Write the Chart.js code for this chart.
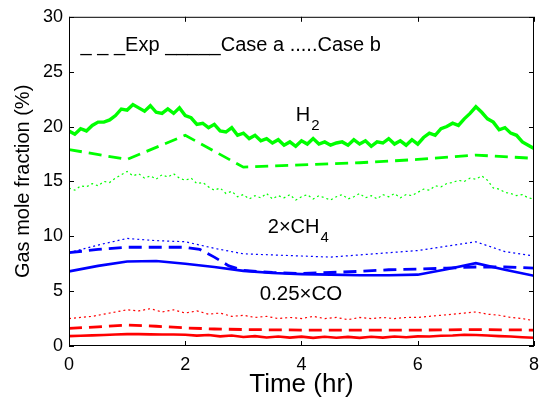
<!DOCTYPE html>
<html>
<head>
<meta charset="utf-8">
<script src="https://cdn.jsdelivr.net/npm/chart.js@4/dist/chart.umd.min.js"></script>
<style>
  html, body { margin: 0; padding: 0; background: #fff; }
  #wrap { width: 547px; height: 402px; }
</style>
</head>
<body>
<div id="wrap"><canvas id="c" width="547" height="402"></canvas></div>
<script>
// ---- Data ----
// time grids (hr)
const tFine = [0,0.1,0.2,0.3,0.4,0.5,0.6,0.7,0.8,0.9,1,1.1,1.2,1.3,1.4,1.5,1.6,1.7,1.8,1.9,2,2.1,2.2,2.3,2.4,2.5,2.6,2.7,2.8,2.9,3,3.1,3.2,3.3,3.4,3.5,3.6,3.7,3.8,3.9,4,4.1,4.2,4.3,4.4,4.5,4.6,4.7,4.8,4.9,5,5.1,5.2,5.3,5.4,5.5,5.6,5.7,5.8,5.9,6,6.1,6.2,6.3,6.4,6.5,6.6,6.7,6.8,6.9,7,7.1,7.2,7.3,7.4,7.5,7.6,7.7,7.8,7.9,8];
const tMid = [0,0.2,0.4,0.6,0.8,1,1.2,1.4,1.6,1.8,2,2.2,2.4,2.6,2.8,3,3.2,3.4,3.6,3.8,4,4.2,4.4,4.6,4.8,5,5.2,5.4,5.6,5.8,6,6.2,6.4,6.6,6.8,7,7.2,7.4,7.6,7.8,8];
const tHalf = [0,0.5,1,1.5,2,2.5,3,3.5,4,4.5,5,5.5,6,6.5,7,7.5,8];
const tHour = [0,1,2,3,4,5,6,7,8];
const tExpCH4 = [0,0.5,1,1.5,2,2.25,2.5,2.75,3,3.5,4,4.5,5,5.5,6,6.5,7,7.5,8];
const tExpCO = [0,0.5,1,1.5,2,2.5,3,4,5,6,7,8];

// H2 (%)
const h2Exp   = [17.9,17.0,19.2,16.3,16.5,16.7,17.0,17.4,17.1];
const h2CaseA = [19.6,19.3,19.8,19.6,20.1,20.4,20.4,20.6,21.0,21.6,21.5,22.0,21.7,21.4,21.9,21.3,21.2,21.6,21.2,21.7,21.0,20.8,20.2,20.3,19.9,20.2,19.6,19.5,19.9,19.2,19.4,18.9,19.2,18.7,18.9,18.5,18.8,18.3,18.6,18.2,18.7,18.4,18.9,18.4,18.6,18.3,18.5,18.6,18.3,18.8,18.4,18.7,18.2,18.6,18.5,18.9,18.4,18.7,18.3,18.8,18.4,19.0,19.4,19.2,19.8,20.0,20.3,20.1,20.7,21.2,21.8,21.3,20.7,20.4,19.7,19.9,19.4,19.2,18.6,18.3,18.0];
const h2CaseB = [14.4,14.2,14.6,14.5,14.8,14.6,15.0,14.9,15.3,15.6,15.9,15.5,15.7,15.3,15.5,15.2,15.6,15.4,15.7,15.3,15.1,15.3,14.8,14.9,14.5,14.2,14.4,13.9,14.1,13.6,13.8,13.4,13.7,13.5,13.9,13.4,13.7,13.5,13.8,13.3,13.6,13.8,13.4,13.7,13.5,13.3,13.6,13.8,13.4,13.6,13.9,13.5,13.7,13.4,13.8,13.6,13.9,13.5,13.8,13.7,14.0,14.3,14.2,14.6,14.5,14.8,14.9,15.1,15.0,15.3,15.2,15.5,15.1,14.4,14.3,14.0,13.9,13.7,13.8,13.5,13.4];

// 2 x CH4 (%)
const ch4Exp   = [8.5,8.8,9.0,9.0,9.0,8.8,8.1,7.3,6.9,6.7,6.6,6.7,6.8,6.95,7.0,7.1,7.2,7.2,7.1];
const ch4CaseA = [6.8,7.3,7.7,7.75,7.5,7.2,6.85,6.65,6.55,6.5,6.45,6.45,6.5,7.0,7.55,6.95,6.4];
const ch4CaseB = [8.5,9.2,9.8,9.6,9.5,8.9,8.4,8.3,8.2,8.1,8.3,8.5,8.7,9.1,9.5,8.6,8.2];

// 0.25 x CO (%)
const coExp   = [1.6,1.75,1.9,1.8,1.65,1.55,1.5,1.45,1.45,1.45,1.5,1.45];
const coCaseA = [0.9,0.93,0.97,1.0,1.05,1.08,1.08,1.06,1.05,1.05,1.02,0.95,1.0,0.88,0.95,0.82,0.9,0.78,0.86,0.76,0.85,0.74,0.84,0.75,0.83,0.74,0.84,0.76,0.86,0.8,0.88,0.86,0.93,0.95,1.02,1.0,0.95,0.9,0.86,0.8,0.75];
const coCaseB = [2.5,2.6,2.7,2.9,3.1,3.3,3.2,3.4,3.1,3.3,3.0,3.2,2.9,3.0,2.7,2.8,2.6,2.7,2.5,2.6,2.5,2.7,2.5,2.6,2.4,2.6,2.5,2.6,2.5,2.6,2.6,2.7,2.8,2.9,3.0,3.1,2.9,2.8,2.6,2.5,2.3];

// axis ticks
const xTicks = [0,2,4,6,8];
const yTicks = [0,5,10,15,20,25,30];

// text labels
const legendText = '_ _ _Exp _____Case a .....Case b';
const xTitle = 'Time (hr)';
const yTitle = 'Gas mole fraction (%)';

// ---- build ----
const pts = (xs, ys) => xs.map((x, i) => ({x: x, y: ys[i]}));
const GREEN = '#00ff00', BLUE = '#0000ff', RED = '#ff0000';
const FONT = "'Liberation Sans', Arial, Helvetica, sans-serif";

function ds(data, color, kind) {
  const o = { data: data, borderColor: color, backgroundColor: color, pointRadius: 0, tension: 0, fill: false };
  if (kind === 'exp') { o.borderWidth = 2.8; o.borderDash = [13, 7]; }
  else if (kind === 'a') { o.borderWidth = 2.6; }
  else { o.borderWidth = 1.2; o.borderDash = [2, 3]; }
  return o;
}

const datasets = [
  ds(pts(tHour, h2Exp), GREEN, 'exp'),
  Object.assign(ds(pts(tFine, h2CaseA), GREEN, 'a'), {borderWidth: 3.4}),
  ds(pts(tFine, h2CaseB), GREEN, 'b'),
  ds(pts(tExpCH4, ch4Exp), BLUE, 'exp'),
  ds(pts(tHalf, ch4CaseA), BLUE, 'a'),
  ds(pts(tHalf, ch4CaseB), BLUE, 'b'),
  ds(pts(tExpCO, coExp), RED, 'exp'),
  ds(pts(tMid, coCaseA), RED, 'a'),
  ds(pts(tMid, coCaseB), RED, 'b')
];

const framePlugin = {
  id: 'frame',
  afterDraw(chart) {
    const {ctx, chartArea: a, scales: {x, y}} = chart;
    ctx.save();
    ctx.strokeStyle = '#000';
    ctx.lineWidth = 1;
    ctx.strokeRect(a.left + 0.5, a.top + 0.5, a.right - a.left - 1, a.bottom - a.top - 1);
    const L = 5;
    ctx.beginPath();
    xTicks.forEach(v => {
      const px = Math.round(x.getPixelForValue(v)) + 0.5;
      ctx.moveTo(px, a.bottom); ctx.lineTo(px, a.bottom - L);
      ctx.moveTo(px, a.top); ctx.lineTo(px, a.top + L);
    });
    yTicks.forEach(v => {
      const py = Math.round(y.getPixelForValue(v)) + 0.5;
      ctx.moveTo(a.left, py); ctx.lineTo(a.left + L, py);
      ctx.moveTo(a.right, py); ctx.lineTo(a.right - L, py);
    });
    ctx.stroke();

    // text labels inside plot
    ctx.fillStyle = '#000';
    ctx.textBaseline = 'alphabetic';
    ctx.textAlign = 'left';
    const put = (s, tx, ty, size, dx, dy) => {
      ctx.font = size + 'px ' + FONT;
      ctx.fillText(s, x.getPixelForValue(tx) + (dx || 0), y.getPixelForValue(ty) + (dy || 0));
    };
    // legend line
    put(legendText, 0.2, 26.9, 20);
    // H2
    ctx.font = '20px ' + FONT;
    let w = ctx.measureText('H').width;
    put('H', 3.9, 20.5, 20);
    put('2', 3.9, 20.5, 15, w + 1, 9);
    // 2xCH4
    ctx.font = '20px ' + FONT;
    w = ctx.measureText('2\u00d7CH').width;
    put('2\u00d7CH', 3.42, 10.3, 20);
    put('4', 3.42, 10.3, 15, w + 1, 9);
    // 0.25xCO
    put('0.25\u00d7CO', 3.28, 4.2, 20.5);
    ctx.restore();
  }
};

new Chart(document.getElementById('c'), {
  type: 'line',
  data: { datasets: datasets },
  options: {
    responsive: false,
    animation: false,
    devicePixelRatio: 1,
    layout: { padding: { left: 0, top: 16, right: 8, bottom: 0 } },
    plugins: { legend: { display: false }, tooltip: { enabled: false } },
    scales: {
      x: {
        type: 'linear', min: 0, max: 8,
        afterBuildTicks(s) { s.ticks = xTicks.map(v => ({value: v})); },
        afterFit(s) { s.height = 56; },
        grid: { display: false, drawTicks: false },
        border: { display: false },
        ticks: { color: '#000', padding: 8, font: { family: FONT, size: 18 } },
        title: { display: true, text: xTitle, color: '#000', padding: { top: 0, bottom: 2 }, font: { family: FONT, size: 26 } }
      },
      y: {
        type: 'linear', min: 0, max: 30,
        afterBuildTicks(s) { s.ticks = yTicks.map(v => ({value: v})); },
        afterFit(s) { s.width = 69; },
        grid: { display: false, drawTicks: false },
        border: { display: false },
        ticks: { color: '#000', padding: 6, font: { family: FONT, size: 18 } },
        title: { display: true, text: yTitle, color: '#000', padding: { top: 11, bottom: 0 }, font: { family: FONT, size: 20 } }
      }
    }
  },
  plugins: [framePlugin]
});
</script>
</body>
</html>
